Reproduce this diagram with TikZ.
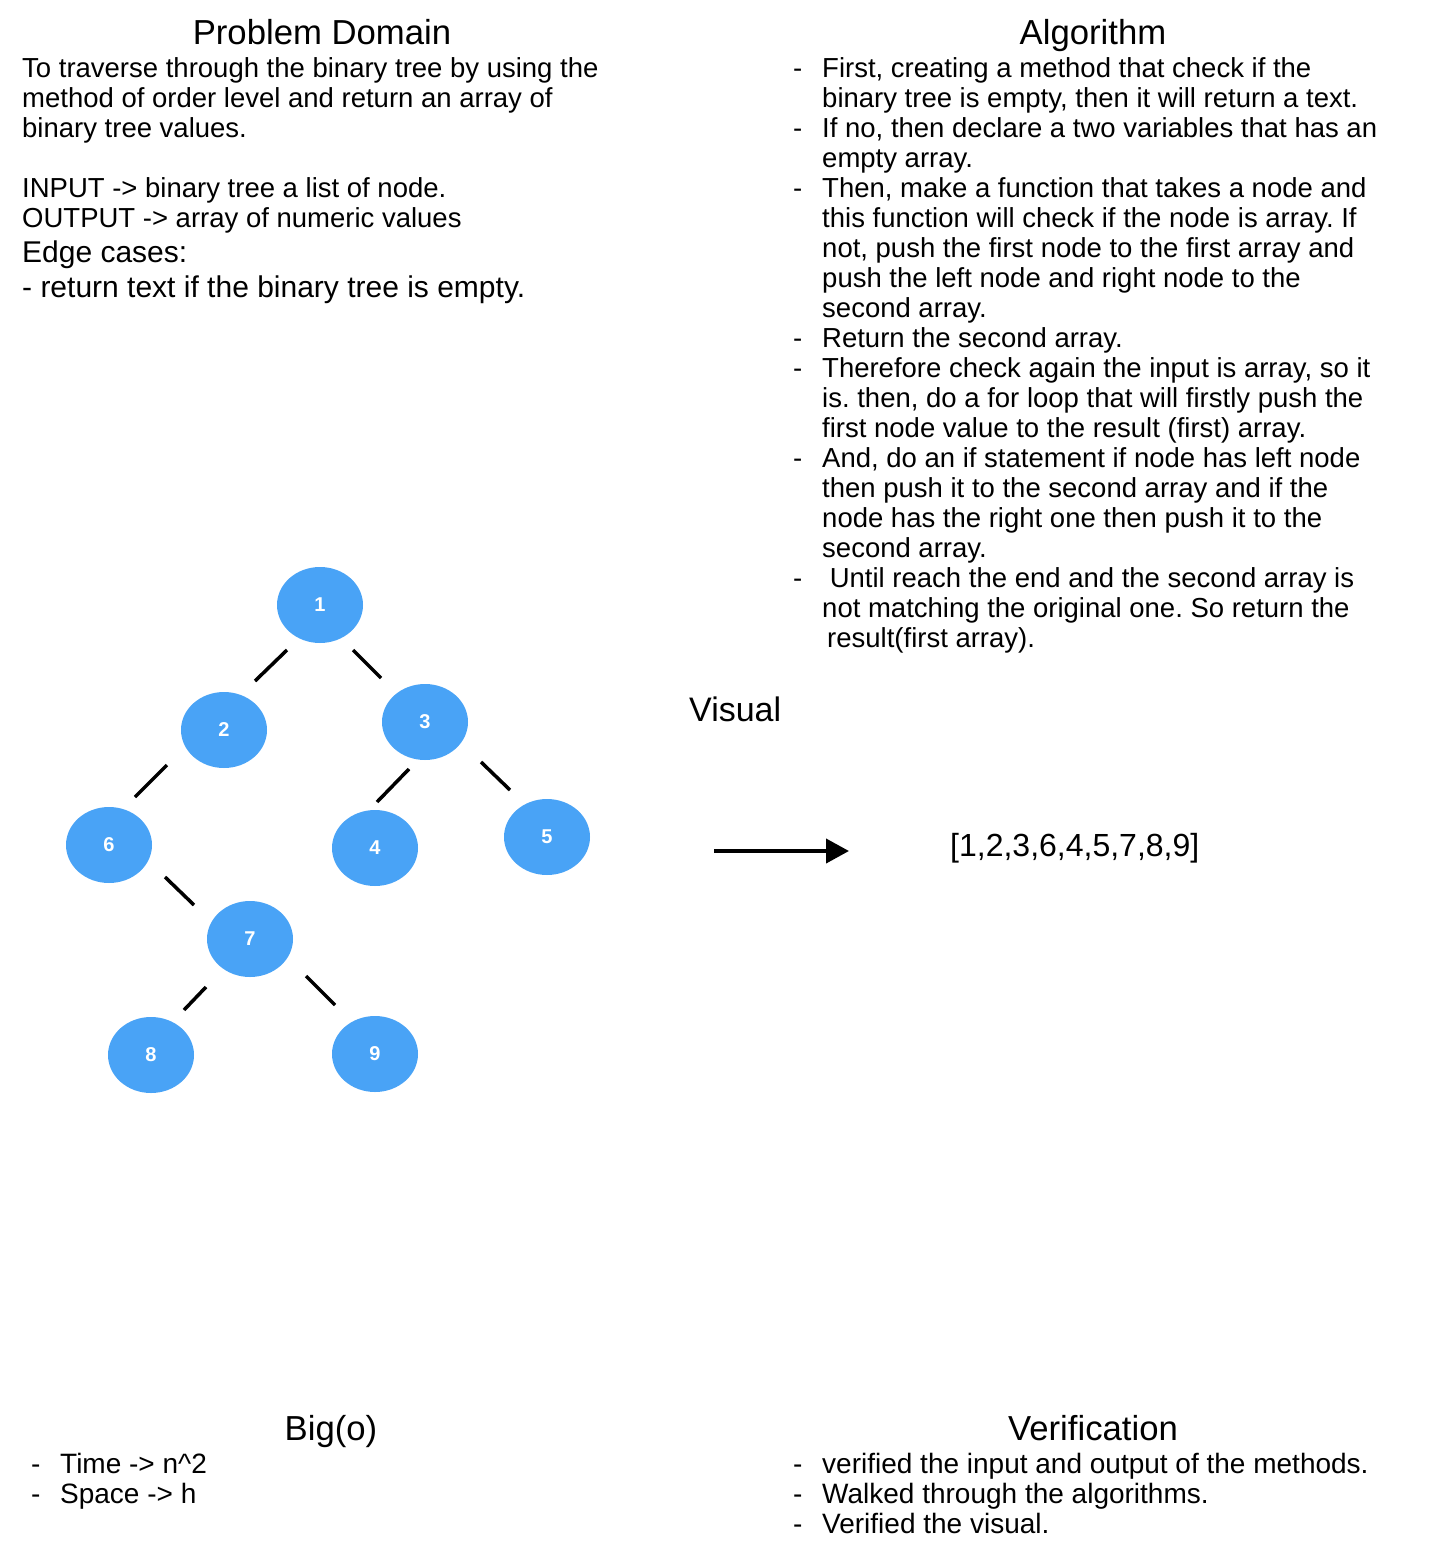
\documentclass[tikz,border=0pt]{standalone}
\usepackage{fontspec}
\setmainfont{Liberation Sans}
\usepackage{array}
\usetikzlibrary{arrows.meta,positioning,calc,shapes.geometric}
\definecolor{treeblue}{HTML}{49A3F6}
\frenchspacing

\begin{document}
\begin{tikzpicture}[x=1pt,y=-1pt,
  title/.style={anchor=base,inner sep=0pt,font=\fontsize{34.7}{40}\selectfont},
  body/.style={anchor=base west,inner sep=0pt,font=\fontsize{27.5}{30}\selectfont},
  treenode/.style={ellipse,fill=treeblue,minimum width=86pt,minimum height=76pt,
    inner sep=0pt,text=white,font=\fontsize{20}{24}\selectfont\bfseries},
  branch/.style={line width=3.5pt}]
\useasboundingbox[fill=white] (0,0) rectangle (1448,1562);

% problem domain
\node[title] (pdtitle) at (322,45) {Problem Domain};
\node[body] (pdtext) at (22,78) {\begin{tabular}[t]{@{}l@{}}
To traverse through the binary tree by using the\\
method of order level and return an array of\\
binary tree values.\\
\\
INPUT -> binary tree a list of node.\\
OUTPUT -> array of numeric values
\end{tabular}};
\node[body,font=\fontsize{30}{35}\selectfont] (edgecases) at (22,262) {\begin{tabular}[t]{@{}l@{}}
Edge cases:\\
- return text if the binary tree is empty.
\end{tabular}};

% algorithm
\node[title] (algtitle) at (1093,45) {Algorithm};
\node[body] (algsteps) at (793,78) {\begin{tabular}[t]{@{}p{29pt}@{}l@{}}
- & First, creating a method that check if the\\
  & binary tree is empty, then it will return a text.\\
- & If no, then declare a two variables that has an\\
  & empty array.\\
- & Then, make a function that takes a node and\\
  & this function will check if the node is array. If\\
  & not, push the first node to the first array and\\
  & push the left node and right node to the\\
  & second array.\\
- & Return the second array.\\
- & Therefore check again the input is array, so it\\
  & is. then, do a for loop that will firstly push the\\
  & first node value to the result (first) array.\\
- & And, do an if statement if node has left node\\
  & then push it to the second array and if the\\
  & node has the right one then push it to the\\
  & second array.\\
- & \ Until reach the end and the second array is\\
  & not matching the original one. So return the\\
  & \hspace{5pt}result(first array).
\end{tabular}};

% tree
\node[treenode] (n1) at (320,605) {1};
\node[treenode] (n2) at (224,730) {2};
\node[treenode] (n3) at (425,722) {3};
\node[treenode] (n6) at (109,845) {6};
\node[treenode] (n4) at (375,848) {4};
\node[treenode] (n5) at (547,837) {5};
\node[treenode] (n7) at (250,939) {7};
\node[treenode] (n8) at (151,1055) {8};
\node[treenode] (n9) at (375,1054) {9};

\draw[branch] ([shift={(-33,45)}]n1.center) -- ++(-32,31);
\draw[branch] ([shift={(33,45)}]n1.center) -- ++(28,28);
\draw[branch] ([shift={(-57,35)}]n2.center) -- ++(-32,32);
\draw[branch] ([shift={(-16,47)}]n3.center) -- ++(-32,33);
\draw[branch] ([shift={(56,40)}]n3.center) -- ++(29,28);
\draw[branch] ([shift={(56,32)}]n6.center) -- ++(29,28);
\draw[branch] ([shift={(-44,48)}]n7.center) -- ++(-22,23);
\draw[branch] ([shift={(56,37)}]n7.center) -- ++(29,29);

% visual
\node[anchor=base west,inner sep=0pt,font=\fontsize{34}{40}\selectfont] (visual) at (689,721) {Visual};
\node[anchor=base west,inner sep=0pt,font=\fontsize{32}{36}\selectfont] (result) at (950,856) {[1,2,3,6,4,5,7,8,9]};
\coordinate (arrowtail) at (714,851);
\coordinate (arrowtip) at (849,851);
\draw[line width=4pt,-{Triangle[length=23pt,width=24pt]}] (arrowtail) -- (arrowtip);

% big o
\node[title] (bigotitle) at (331,1440) {Big(o)};
\node[body,font=\fontsize{28}{30}\selectfont] (bigo) at (31,1473) {\begin{tabular}[t]{@{}p{29pt}@{}l@{}}
- & Time -> n\textasciicircum 2\\
- & Space -> h
\end{tabular}};

% verification
\node[title] (vertitle) at (1093,1440) {Verification};
\node[body,font=\fontsize{28}{30}\selectfont] (verify) at (793,1473) {\begin{tabular}[t]{@{}p{29pt}@{}l@{}}
- & verified the input and output of the methods.\\
- & Walked through the algorithms.\\
- & Verified the visual.
\end{tabular}};
\end{tikzpicture}
\end{document}
